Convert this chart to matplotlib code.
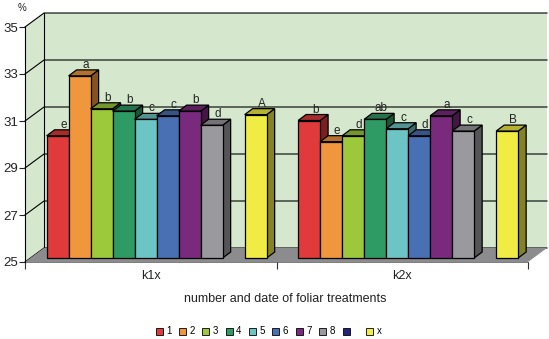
import matplotlib.pyplot as plt
from matplotlib.patches import Polygon, Patch
import numpy as np

plt.rcParams['font.family'] = ['Liberation Sans', 'DejaVu Sans']

categories = ['k1x', 'k2x']
series = ['1', '2', '3', '4', '5', '6', '7', '8', '  ', 'x']
colors = ['#e03a3a', '#f0963c', '#9cc83c', '#2e9a64', '#6cc4c4',
          '#4a70b4', '#7a2a7c', '#9a9a9e', '#24247a', '#f0ec44']
k1x = [30.2, 32.75, 31.35, 31.25, 30.9, 31.05, 31.25, 30.65, None, 31.1]
k2x = [30.85, 29.95, 30.2, 30.9, 30.5, 30.2, 31.05, 30.4, None, 30.4]
k1x_letters = ['e', 'a', 'b', 'b', 'c', 'c', 'b', 'd', '', 'A']
k2x_letters = ['b', 'e', 'd', 'ab', 'c', 'd', 'a', 'c', '', 'B']
yticks = [25, 27, 29, 31, 33, 35]

wall_color = '#d5e8cd'
floor_color = '#8c8c8e'

fig = plt.figure(figsize=(5.49, 3.39), dpi=100)
ax = fig.add_axes([25 / 549, 77 / 339, 503 / 549, 235 / 339])
ax.set_xlim(0, 2)
ax.set_ylim(25, 35)
ax.patch.set_visible(False)

# pixel -> data unit
PX = 2 / 503
PY = 10 / 235
wx, wy = 19 * PX, 14 * PY      # depth of the walls
bx, by = 5 * PX, 4 * PY        # bar front offset
dx, dy = 8 * PX, 6 * PY        # bar depth

# walls and floor
ax.add_patch(Polygon([(wx, 25 + wy), (2 + wx, 25 + wy), (2 + wx, 35 + wy), (wx, 35 + wy)],
                     closed=True, facecolor=wall_color, edgecolor='none', zorder=0, clip_on=False))
ax.add_patch(Polygon([(0, 25), (wx, 25 + wy), (wx, 35 + wy), (0, 35)],
                     closed=True, facecolor=wall_color, edgecolor='none', zorder=0, clip_on=False))
ax.add_patch(Polygon([(0, 25), (2, 25), (2 + wx, 25 + wy), (wx, 25 + wy)],
                     closed=True, facecolor=floor_color, edgecolor='none', zorder=0.5, clip_on=False))
for v in yticks:
    ax.plot([0, wx, 2 + wx], [v, v + wy, v + wy], color='black', lw=0.8, zorder=0.3, clip_on=False)
ax.plot([wx, wx], [25 + wy, 35 + wy], color='black', lw=0.8, zorder=0.3, clip_on=False)
ax.plot([0, 2], [25, 25], color='#666666', lw=0.6, zorder=0.6, clip_on=False)

# bars
slot = 0.0875
start = 0.066
z = 1
for ci, (vals, letters) in enumerate([(k1x, k1x_letters), (k2x, k2x_letters)]):
    for si, v in enumerate(vals):
        if v is None:
            continue
        c = np.array(plt.matplotlib.colors.to_rgb(colors[si]))
        x0 = ci + start + si * slot + bx
        y0 = 25 + by
        h = v - 25
        top = y0 + h
        ax.add_patch(Polygon([(x0 + slot, y0), (x0 + slot + dx, y0 + dy), (x0 + slot + dx, top + dy), (x0 + slot, top)],
                             closed=True, facecolor=c * 0.55, edgecolor='black', lw=0.9, zorder=z, clip_on=False))
        ax.add_patch(Polygon([(x0, top), (x0 + slot, top), (x0 + slot + dx, top + dy), (x0 + dx, top + dy)],
                             closed=True, facecolor=c * 0.75, edgecolor='black', lw=0.9, zorder=z + 0.1, clip_on=False))
        ax.bar(x0, h, width=slot, bottom=y0, align='edge', color=c, edgecolor='black',
               lw=0.9, zorder=z + 0.2, clip_on=False)
        ax.text(x0 + slot / 2 + 0.75 * dx, top + dy + 2 * PY, letters[si], ha='center', va='baseline',
                fontsize=8.5, color='#222222', zorder=50)
        z += 1

# axes
for s in ['top', 'right', 'bottom']:
    ax.spines[s].set_visible(False)
ax.spines['left'].set_linewidth(0.8)
ax.set_yticks(yticks)
ax.tick_params(axis='y', length=4, width=0.8, pad=1, labelsize=9.5, colors='#222222')
ax.set_xticks([0, 1, 2])
ax.set_xticklabels([])
ax.tick_params(axis='x', length=5, width=0.8, color='#333333')
ax.set_xticks([0.5, 1.5], minor=True)
ax.set_xticklabels(categories, minor=True)
ax.tick_params(axis='x', which='minor', length=0, pad=6, labelsize=9, labelcolor='#222222')

fig.text(22 / 549, 1 - 8 / 339, '%', fontsize=7, ha='center', va='center', color='#222222')
fig.text(285 / 549, 1 - 299 / 339, 'number and date of foliar treatments',
         fontsize=9, ha='center', va='center', color='#222222')

handles = [Patch(facecolor=c, edgecolor='black', lw=0.6) for c in colors]
fig.legend(handles, series, loc='center', bbox_to_anchor=(268.5 / 549, 1 - 331.5 / 339), ncol=10,
           frameon=False, fontsize=7, handlelength=0.72, handleheight=0.72,
           handletextpad=0.35, columnspacing=0.78)

fig.savefig('out.png', dpi=100)
